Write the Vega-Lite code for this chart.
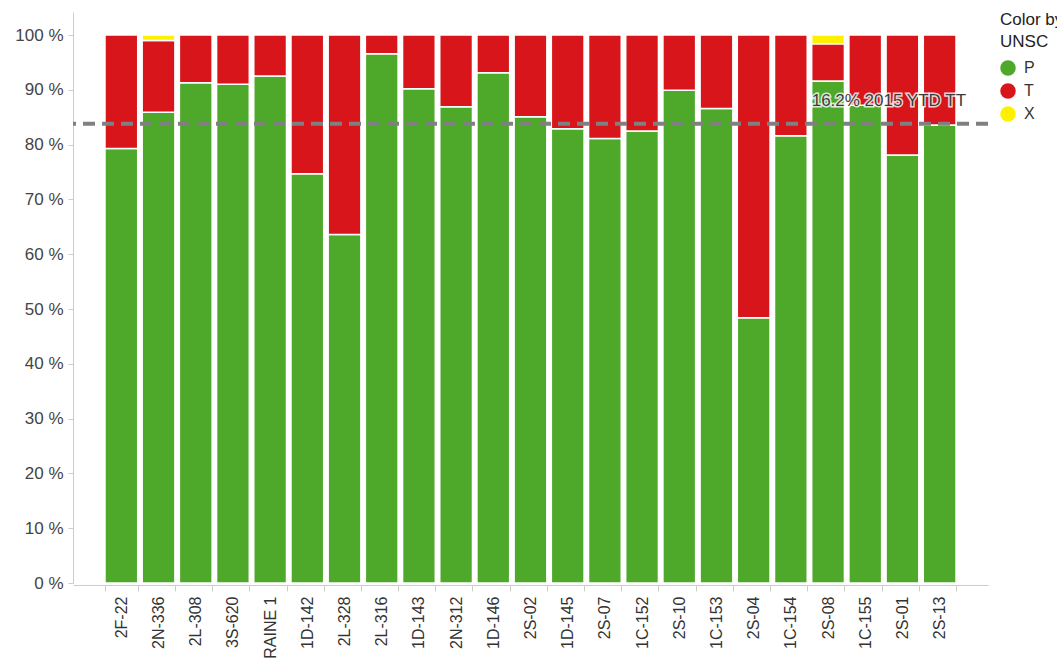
{
  "$schema": "https://vega.github.io/schema/vega-lite/v6.json",
  "autosize": "none",
  "width": 915,
  "height": 571,
  "padding": {"left": 73, "top": 12, "right": 69, "bottom": 80},
  "background": "white",
  "config": {"view": {"stroke": null}, "font": "Liberation Sans"},
  "datasets": {
    "wells": [
      {"Well": "2F-22", "UNSC": "P", "pct": 79.3}, {"Well": "2F-22", "UNSC": "T", "pct": 20.7},
      {"Well": "2N-336", "UNSC": "P", "pct": 85.9}, {"Well": "2N-336", "UNSC": "T", "pct": 13.1}, {"Well": "2N-336", "UNSC": "X", "pct": 1.0},
      {"Well": "2L-308", "UNSC": "P", "pct": 91.3}, {"Well": "2L-308", "UNSC": "T", "pct": 8.7},
      {"Well": "3S-620", "UNSC": "P", "pct": 91.0}, {"Well": "3S-620", "UNSC": "T", "pct": 9.0},
      {"Well": "RAINE 1", "UNSC": "P", "pct": 92.5}, {"Well": "RAINE 1", "UNSC": "T", "pct": 7.5},
      {"Well": "1D-142", "UNSC": "P", "pct": 74.7}, {"Well": "1D-142", "UNSC": "T", "pct": 25.3},
      {"Well": "2L-328", "UNSC": "P", "pct": 63.6}, {"Well": "2L-328", "UNSC": "T", "pct": 36.4},
      {"Well": "2L-316", "UNSC": "P", "pct": 96.6}, {"Well": "2L-316", "UNSC": "T", "pct": 3.4},
      {"Well": "1D-143", "UNSC": "P", "pct": 90.2}, {"Well": "1D-143", "UNSC": "T", "pct": 9.8},
      {"Well": "2N-312", "UNSC": "P", "pct": 86.9}, {"Well": "2N-312", "UNSC": "T", "pct": 13.1},
      {"Well": "1D-146", "UNSC": "P", "pct": 93.1}, {"Well": "1D-146", "UNSC": "T", "pct": 6.9},
      {"Well": "2S-02", "UNSC": "P", "pct": 85.1}, {"Well": "2S-02", "UNSC": "T", "pct": 14.9},
      {"Well": "1D-145", "UNSC": "P", "pct": 82.9}, {"Well": "1D-145", "UNSC": "T", "pct": 17.1},
      {"Well": "2S-07", "UNSC": "P", "pct": 81.1}, {"Well": "2S-07", "UNSC": "T", "pct": 18.9},
      {"Well": "1C-152", "UNSC": "P", "pct": 82.5}, {"Well": "1C-152", "UNSC": "T", "pct": 17.5},
      {"Well": "2S-10", "UNSC": "P", "pct": 89.9}, {"Well": "2S-10", "UNSC": "T", "pct": 10.1},
      {"Well": "1C-153", "UNSC": "P", "pct": 86.6}, {"Well": "1C-153", "UNSC": "T", "pct": 13.4},
      {"Well": "2S-04", "UNSC": "P", "pct": 48.4}, {"Well": "2S-04", "UNSC": "T", "pct": 51.6},
      {"Well": "1C-154", "UNSC": "P", "pct": 81.6}, {"Well": "1C-154", "UNSC": "T", "pct": 18.4},
      {"Well": "2S-08", "UNSC": "P", "pct": 91.6}, {"Well": "2S-08", "UNSC": "T", "pct": 6.8}, {"Well": "2S-08", "UNSC": "X", "pct": 1.6},
      {"Well": "1C-155", "UNSC": "P", "pct": 87.2}, {"Well": "1C-155", "UNSC": "T", "pct": 12.8},
      {"Well": "2S-01", "UNSC": "P", "pct": 78.1}, {"Well": "2S-01", "UNSC": "T", "pct": 21.9},
      {"Well": "2S-13", "UNSC": "P", "pct": 83.6}, {"Well": "2S-13", "UNSC": "T", "pct": 16.4}
    ],
    "ref": [{"Well": "2S-08", "level": 83.8, "label": "16.2% 2015 YTD TT"}]
  },
  "encoding": {
    "x": {
      "field": "Well", "type": "nominal",
      "scale": {
        "domain": ["2F-22","2N-336","2L-308","3S-620","RAINE 1","1D-142","2L-328","2L-316","1D-143","2N-312","1D-146","2S-02","1D-145","2S-07","1C-152","2S-10","1C-153","2S-04","1C-154","2S-08","1C-155","2S-01","2S-13"],
        "paddingInner": 0.12, "paddingOuter": 0.86
      },
      "axis": {
        "title": null, "labelAngle": -90, "labelFontSize": 16, "labelColor": "#333333",
        "tickBand": "extent", "domainColor": "#cccccc", "tickColor": "#cccccc",
        "tickSize": 6, "offset": 2, "labelPadding": 5, "grid": false
      }
    }
  },
  "layer": [
    {
      "data": {"name": "wells"},
      "mark": {"type": "bar", "stroke": "white", "strokeWidth": 1.5},
      "encoding": {
        "y": {
          "field": "pct", "type": "quantitative", "stack": "zero",
          "scale": {"domain": [0, 104.2], "nice": false},
          "axis": {
            "values": [0,10,20,30,40,50,60,70,80,90,100],
            "labelExpr": "datum.value + ' %'", "title": null, "grid": false,
            "domainColor": "#cccccc", "tickColor": "#cccccc", "tickSize": 5,
            "labelFontSize": 17, "labelColor": "#444444", "labelPadding": 5
          }
        },
        "color": {
          "field": "UNSC", "type": "nominal",
          "scale": {"domain": ["P","T","X"], "range": ["#4ea82a","#d7151b","#fff000"]},
          "legend": {
            "title": ["Color by", "UNSC"], "titleFontSize": 17, "titleFontWeight": "normal",
            "titleColor": "#222222", "titleLineHeight": 22, "titlePadding": 9,
            "labelFontSize": 16, "labelColor": "#333333", "labelOffset": 8,
            "symbolType": "circle", "symbolSize": 240, "symbolStrokeWidth": 0,
            "orient": "right", "offset": 12, "padding": 0, "rowPadding": 7
          }
        },
        "order": {"field": "UNSC", "sort": "ascending"}
      }
    },
    {
      "data": {"name": "ref"},
      "mark": {"type": "rule", "color": "#808080", "strokeWidth": 4, "strokeDash": [12, 7]},
      "encoding": {"x": null, "y": {"field": "level", "type": "quantitative"}}
    },
    {
      "data": {"name": "ref"},
      "mark": {"type": "text", "align": "left", "baseline": "middle", "dy": -23, "fontSize": 17, "stroke": "white", "strokeWidth": 3, "strokeOpacity": 0.8, "fill": "white"},
      "encoding": {
        "x": {"field": "Well", "type": "nominal", "bandPosition": 0},
        "y": {"field": "level", "type": "quantitative"},
        "text": {"field": "label"}
      }
    },
    {
      "data": {"name": "ref"},
      "mark": {"type": "text", "align": "left", "baseline": "middle", "dy": -23, "fontSize": 17, "fill": "#3a3a3a"},
      "encoding": {
        "x": {"field": "Well", "type": "nominal", "bandPosition": 0},
        "y": {"field": "level", "type": "quantitative"},
        "text": {"field": "label"}
      }
    }
  ]
}
